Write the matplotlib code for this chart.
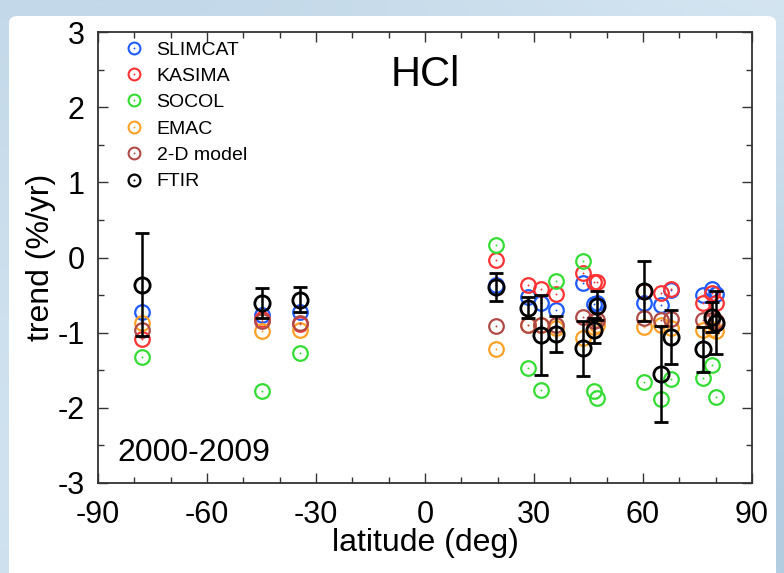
import numpy as np
import matplotlib
matplotlib.use("Agg")
import matplotlib.pyplot as plt
from matplotlib.patches import FancyBboxPatch
from matplotlib.lines import Line2D
from matplotlib.legend_handler import HandlerTuple
from matplotlib.ticker import MultipleLocator

plt.rcParams['font.family'] = ['Liberation Sans', 'DejaVu Sans']

# FTIR station latitudes (deg)
latitude = [-78, -45, -34.5, 19.5, 28.3, 31.9, 36, 43.5, 46.5, 47.4,
            60.2, 65, 67.8, 76.5, 78.9, 80]

# HCl trends 2000-2009 (%/yr)
slimcat = [-0.73, -0.77, -0.73, -0.37, -0.52, -0.61, -0.70, -0.34, -0.62, -0.60,
           -0.60, -0.63, -0.43, -0.50, -0.42, -0.48]
kasima = [-1.09, -0.82, -0.88, -0.03, -0.36, -0.42, -0.49, -0.21, -0.33, -0.33,
          -0.45, -0.47, -0.42, -0.61, -0.47, -0.61]
socol = [-1.33, -1.78, -1.27, 0.17, -1.47, -1.76, -0.31, -0.04, -1.78, -1.87,
         -1.65, -1.88, -1.62, -1.60, -1.43, -1.86]
emac = [-0.87, -0.98, -0.97, -1.22, -0.90, -0.90, -0.94, -1.07, -0.92, -0.90,
        -0.92, -0.90, -0.94, -0.97, -0.95, -0.98]
model_2d = [-0.96, -0.84, -0.87, -0.91, -0.90, -0.90, -0.90, -0.79, -0.85, -0.83,
            -0.81, -0.83, -0.82, -0.83, -0.83, -0.85]
ftir = [-0.36, -0.61, -0.56, -0.39, -0.67, -1.03, -1.02, -1.21, -0.97, -0.64,
        -0.44, -1.55, -1.06, -1.22, -0.79, -0.87]
ftir_err = [0.68, 0.20, 0.17, 0.19, 0.14, 0.53, 0.24, 0.37, 0.17, 0.19,
            0.40, 0.64, 0.36, 0.30, 0.20, 0.42]

series = [
    ("SLIMCAT", slimcat, "#1f5cff"),
    ("KASIMA", kasima, "#ff3333"),
    ("SOCOL", socol, "#33dd33"),
    ("EMAC", emac, "#ffa126"),
    ("2-D model", model_2d, "#b04a46"),
]

W, H, DPI = 784, 573, 100
fig = plt.figure(figsize=(W / DPI, H / DPI), dpi=DPI)

# soft blue backdrop with a white card on top
bg = fig.add_axes([0, 0, 1, 1], zorder=-10)
yy, xx = np.mgrid[0:1:200j, 0:1:200j]
shade = 0.55 + 0.25 * np.sin(3.0 * xx + 1.2) * np.cos(2.2 * yy) + 0.2 * yy
base = np.array([0.62, 0.74, 0.84])
light = np.array([0.86, 0.92, 0.96])
img = base[None, None, :] * (1 - shade[..., None]) + light[None, None, :] * shade[..., None]
bg.imshow(np.clip(img, 0, 1), extent=[0, 1, 0, 1], aspect='auto', origin='lower')
card = FancyBboxPatch((9 / W, -0.05), (767) / W, (H - 16) / H + 0.05,
                      boxstyle="round,pad=0,rounding_size=0.012",
                      transform=bg.transAxes, facecolor="white", edgecolor="none")
bg.add_patch(card)
bg.set_xlim(0, 1)
bg.set_ylim(0, 1)
bg.axis('off')

ax = fig.add_axes([98 / W, 1 - 483 / H, 654 / W, 451 / H])

handles = []
for name, vals, col in series:
    ax.plot(latitude, vals, linestyle='none', marker='o', markersize=10.5,
            markerfacecolor='none', markeredgecolor=col, markeredgewidth=1.6)
    ax.plot(latitude, vals, linestyle='none', marker='o', markersize=1.4,
            color=col, markeredgewidth=0)
    handles.append((Line2D([], [], ls='none', marker='o', ms=8.5, mfc='none',
                           mec=col, mew=1.5),
                    Line2D([], [], ls='none', marker='o', ms=1.4, color=col, mew=0)))

ax.errorbar(latitude, ftir, yerr=ftir_err, fmt='o', markersize=11,
            markerfacecolor='none', markeredgecolor='black', markeredgewidth=2.0,
            ecolor='black', elinewidth=1.8, capsize=4.8, capthick=1.8, zorder=5)
handles.append((Line2D([], [], ls='none', marker='o', ms=8.5, mfc='none',
                       mec='black', mew=1.6),
                Line2D([], [], ls='none', marker='o', ms=1.4, color='black', mew=0)))

ax.set_xlim(-90, 90)
ax.set_ylim(-3, 3)
ax.xaxis.set_major_locator(MultipleLocator(30))
ax.xaxis.set_minor_locator(MultipleLocator(10))
ax.yaxis.set_major_locator(MultipleLocator(1))
ax.yaxis.set_minor_locator(MultipleLocator(0.5))
ax.tick_params(which='both', direction='in', top=True, right=True, width=1.0,
               colors='#333333', labelcolor='black', labelsize=22)
ax.tick_params(which='major', length=7)
ax.tick_params(axis='x', which='major', pad=12)
ax.tick_params(axis='y', which='major', pad=9.5)
ax.tick_params(which='minor', length=4)
for s in ax.spines.values():
    s.set_linewidth(1.3)
    s.set_color('#333333')

ax.set_xticklabels([str(int(v)) for v in ax.get_xticks()])
ax.set_yticklabels([str(int(v)) for v in ax.get_yticks()])
ax.set_xlabel("latitude (deg)", fontsize=23, labelpad=-1)
ax.set_ylabel("trend (%/yr)", fontsize=23, labelpad=1)

ax.text(0.5, 0.905, "HCl", transform=ax.transAxes, fontsize=30,
        ha='center', va='center')
ax.text(0.03, 0.067, "2000-2009", transform=ax.transAxes, fontsize=23,
        ha='left', va='center')

names = [s[0] for s in series] + ["FTIR"]
ax.legend(handles, names, handler_map={tuple: HandlerTuple(ndivide=1, pad=0)},
          loc='upper left', bbox_to_anchor=(0.023, 1.006), frameon=False,
          fontsize=14, handlelength=1.0, handletextpad=0.64, labelspacing=0.45,
          borderaxespad=0.2)

fig.savefig("out.png", dpi=DPI)
